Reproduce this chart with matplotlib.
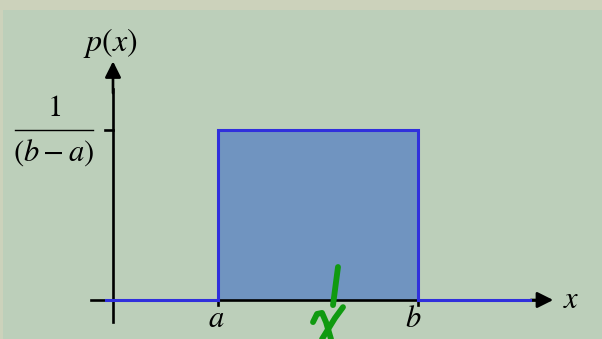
import numpy as np
import matplotlib
matplotlib.use("Agg")
import matplotlib.pyplot as plt
from matplotlib.patches import Rectangle

plt.rcParams['mathtext.fontset'] = 'stix'

# Uniform distribution on [a, b]
a = 1.0
b = 3.0
density = 1.0 / (b - a)

# Horizontal tails of the density drawn outside [a, b]
tail = 1.12

# Hand-drawn green "x" marker (pen strokes, in data units)
stroke_bar = ([2.20, 2.15], [0.097, -0.015])
stroke_left = ([1.95, 1.99, 2.04, 2.08, 2.13], [-0.065, -0.041, -0.038, -0.065, -0.115])
stroke_right = ([2.25, 2.17, 2.04], [-0.021, -0.053, -0.115])

bg = '#bccfba'
fill = '#7094c0'
edge = '#3030dc'
ink = '#109a10'

fig = plt.figure(figsize=(6.02, 3.39), dpi=100)
fig.patch.set_facecolor(bg)
# light frame at the top and left edges
fig.patches.append(Rectangle((0, 1 - 10 / 339), 1, 10 / 339, transform=fig.transFigure,
                             facecolor='#ccd2bb', edgecolor='none'))
fig.patches.append(Rectangle((0, 0), 3 / 602, 1, transform=fig.transFigure,
                             facecolor='#ccd2bb', edgecolor='none'))

ax = fig.add_axes([0, 0, 1, 1])
ax.set_facecolor('none')
ax.set_xlim(-1.18, 4.84)
ax.set_ylim(-0.1147, 0.882)
ax.axis('off')

y_axis_x = -0.05

# density block
ax.fill_between([a, b], [0, 0], [density, density], color=fill, lw=0, zorder=1)

# axes with arrow heads
ax.plot([-0.27, 4.25], [0, 0], color='black', lw=1.9, zorder=2)
ax.annotate('', xy=(4.38, 0), xytext=(4.1, 0),
            arrowprops=dict(arrowstyle='-|>', mutation_scale=24, color='black', lw=1.9))
ax.plot([y_axis_x, y_axis_x], [-0.065, 0.62], color='black', lw=1.9, zorder=2)
ax.annotate('', xy=(y_axis_x, 0.71), xytext=(y_axis_x, 0.6),
            arrowprops=dict(arrowstyle='-|>', mutation_scale=24, color='black', lw=1.9))

# ticks
ax.plot([y_axis_x - 0.08, y_axis_x], [density, density], color='black', lw=1.9)
for v in (a, b):
    ax.plot([v, v], [0, -0.016], color='black', lw=1.9)

# density outline
ax.plot([a - tail, a], [0, 0], color=edge, lw=2.2, zorder=3)
ax.plot([b, b + tail], [0, 0], color=edge, lw=2.2, zorder=3)
ax.plot([a, a, b, b], [0, density, density, 0], color=edge, lw=2.2, zorder=3,
        solid_joinstyle='miter')

# labels
ax.text(-0.08, 0.755, r'$p\left(x\right)$', fontsize=23, ha='center', va='center')

# 1/(b-a) written as a stacked fraction next to the tick
frac_x = -0.64
ax.text(frac_x, density + 0.065, r'$1$', fontsize=22, ha='center', va='center')
ax.plot([-1.03, -0.25], [density, density], color='black', lw=1.0)
ax.text(frac_x, density - 0.068, r'$(b-a)$', fontsize=22, ha='center', va='center')

ax.text(a - 0.02, -0.055, r'$a$', fontsize=22, ha='center', va='center')
ax.text(b - 0.05, -0.055, r'$b$', fontsize=22, ha='center', va='center')
ax.text(4.53, 0.0, r'$x$', fontsize=22, ha='center', va='center')

# green pen marks
for xs, ys in (stroke_bar, stroke_left, stroke_right):
    ax.plot(xs, ys, color=ink, lw=4.2, solid_capstyle='round',
            solid_joinstyle='round', zorder=5)

fig.savefig('out.png', dpi=100, facecolor=bg)
